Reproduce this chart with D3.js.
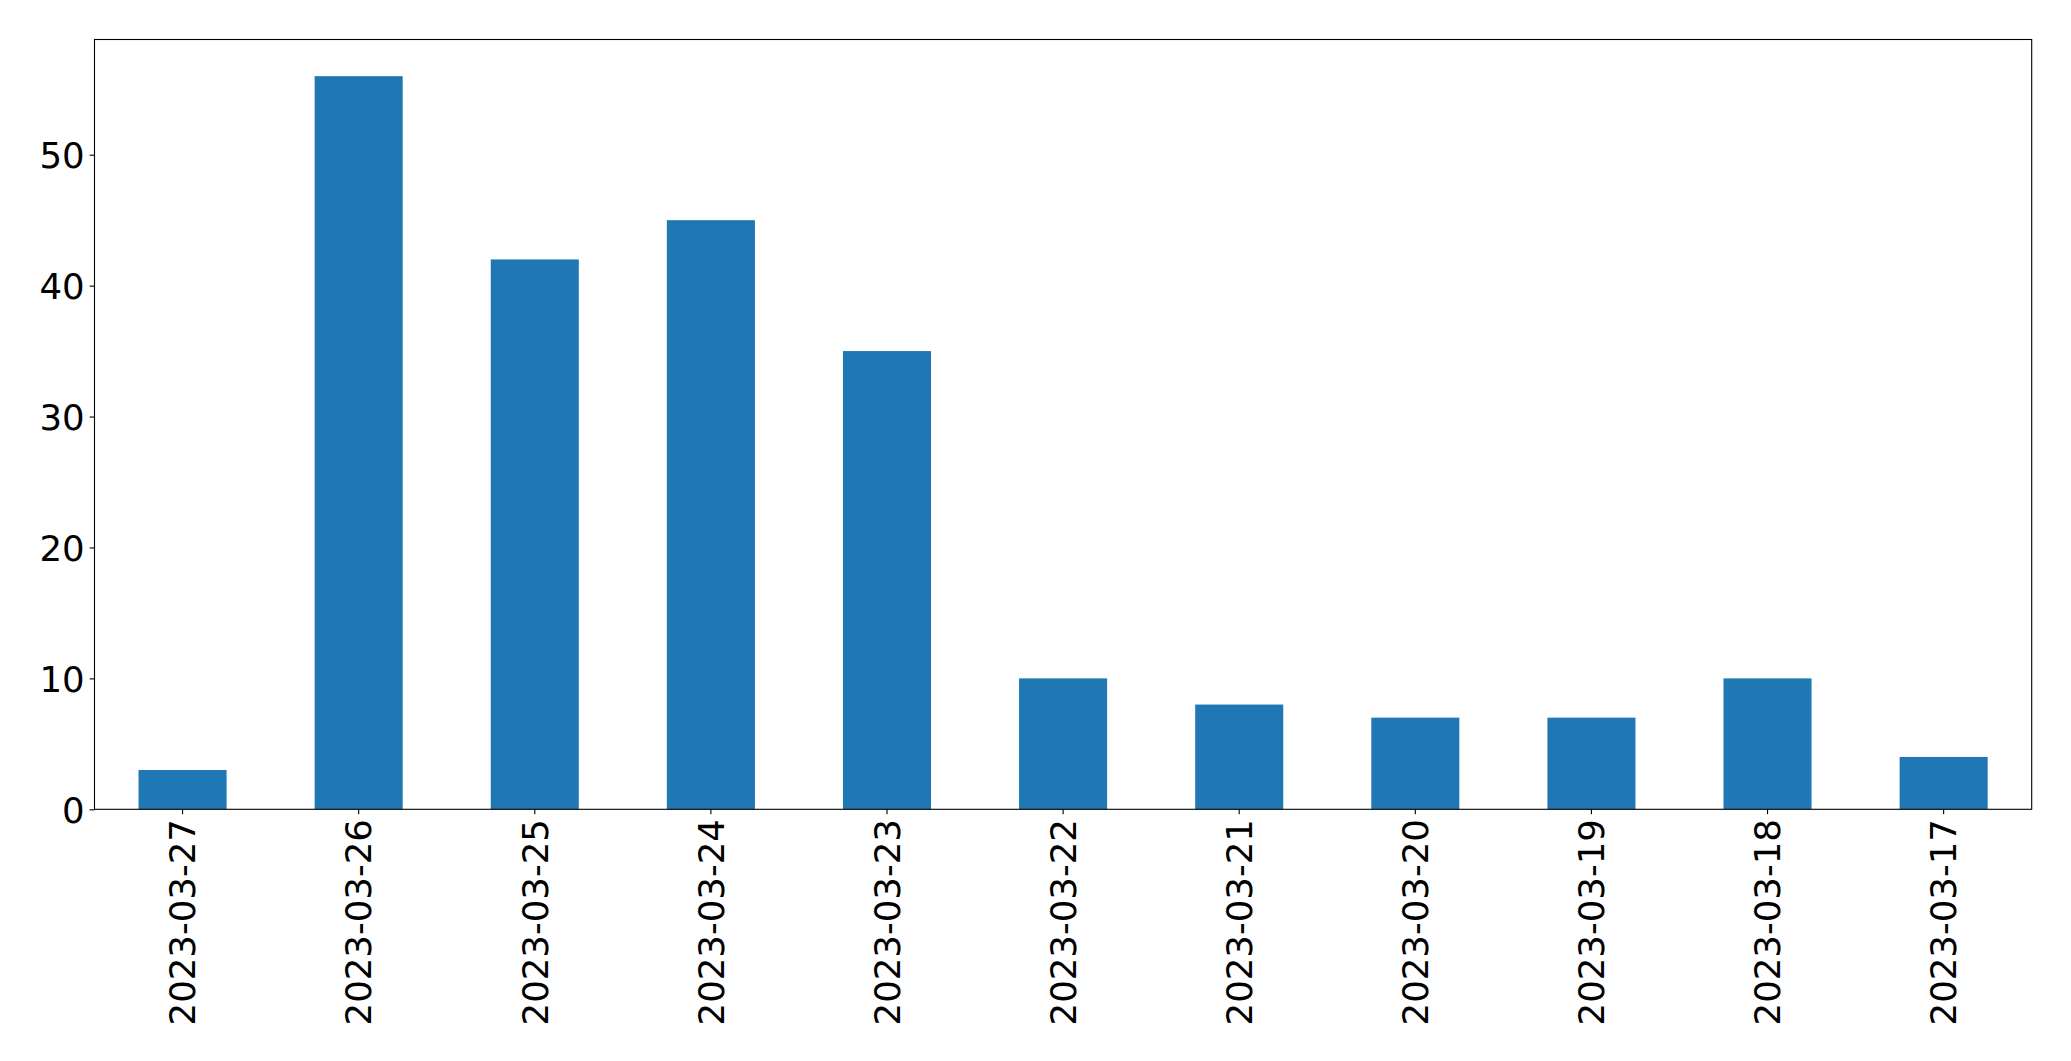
<!DOCTYPE html>
<html>
<head>
<meta charset="utf-8">
<script src="https://cdn.jsdelivr.net/npm/d3@7"></script>
<style>
  html, body { margin: 0; padding: 0; background: #fff; }
  svg { display: block; }
  text { font-family: "DejaVu Sans", sans-serif; fill: #000; }
</style>
</head>
<body>
<script>
const categories = ["2023-03-27","2023-03-26","2023-03-25","2023-03-24","2023-03-23","2023-03-22","2023-03-21","2023-03-20","2023-03-19","2023-03-18","2023-03-17"];
const values = [3, 56, 42, 45, 35, 10, 8, 7, 7, 10, 4];
const yTicks = [0, 10, 20, 30, 40, 50];

const W = 2071, H = 1061;
const mLeft = 94.5, mRight = 2031.7, mTop = 39.5, mBottom = 809.3;
const fontSize = 35.5, tickLen = 4.9, pad = 4.9;

const svg = d3.select("body").append("svg").attr("width", W).attr("height", H);

const x = d3.scaleBand().domain(categories).range([mLeft, mRight]).paddingInner(0.5).paddingOuter(0.25);
const yMax = d3.max(values) * 1.05;
const y = d3.scaleLinear().domain([0, yMax]).range([mBottom, mTop]);

svg.append("g").selectAll("rect").data(values).join("rect")
  .attr("x", (d, i) => x(categories[i]))
  .attr("width", x.bandwidth())
  .attr("y", d => y(d))
  .attr("height", d => y(0) - y(d))
  .attr("fill", "#1f77b4");

svg.append("rect").attr("x", mLeft).attr("y", mTop).attr("width", mRight - mLeft).attr("height", mBottom - mTop)
  .attr("fill", "none").attr("stroke", "#000").attr("stroke-width", 1.1);

const yAxis = d3.axisLeft(y).tickValues(yTicks).tickSize(tickLen).tickPadding(pad).tickFormat(d3.format("d"));
const gy = svg.append("g").attr("transform", `translate(${mLeft},0)`).call(yAxis);
gy.select(".domain").remove();
gy.selectAll("line").attr("stroke", "#000").attr("stroke-width", 1.1);
gy.selectAll("text").attr("font-size", fontSize).attr("font-family", "DejaVu Sans, sans-serif").attr("fill", "#000").attr("dy", "0.36em");

const xAxis = d3.axisBottom(x).tickSize(tickLen).tickPadding(pad);
const gx = svg.append("g").attr("transform", `translate(0,${mBottom})`).call(xAxis);
gx.select(".domain").remove();
gx.selectAll("line").attr("stroke", "#000").attr("stroke-width", 1.1);
gx.selectAll("text")
  .attr("font-size", fontSize).attr("font-family", "DejaVu Sans, sans-serif").attr("fill", "#000")
  .attr("text-anchor", "end")
  .attr("transform", `translate(0,${tickLen + pad}) rotate(-90)`)
  .attr("x", 0).attr("y", 0).attr("dy", "0.36em");
</script>
</body>
</html>
